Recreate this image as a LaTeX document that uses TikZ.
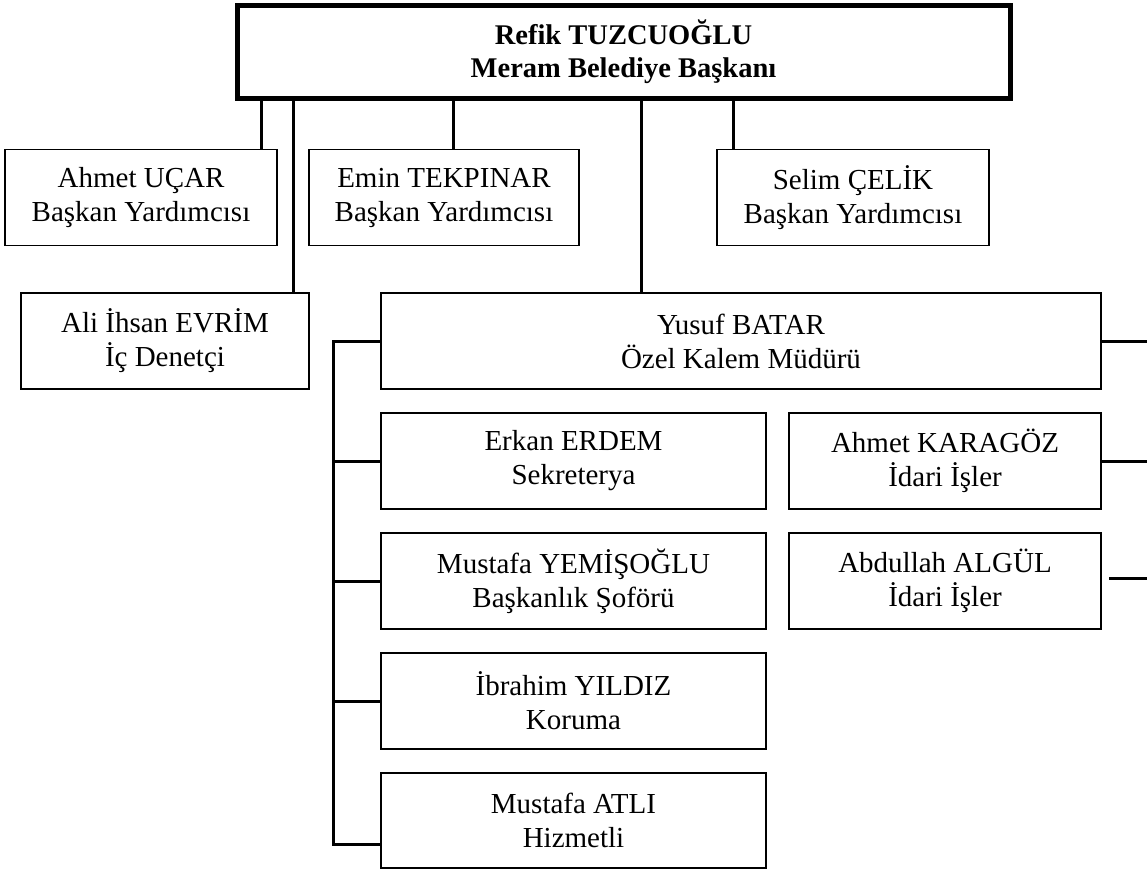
\documentclass[tikz,border=0pt]{standalone}
\usepackage{fontspec}
\setmainfont{Liberation Serif}
\begin{document}
\begin{tikzpicture}[x=1pt,y=-1pt,
  every node/.style={inner sep=0pt,outer sep=0pt,align=center},
  staffbox/.style={draw,line width=1.5pt,font=\fontsize{29}{34}\selectfont},
  headbox/.style={draw,line width=5pt,font=\fontsize{28.5}{33}\selectfont\bfseries},
  link/.style={line width=3pt}]
\useasboundingbox (0,0) rectangle (1147,870);
% nodes
\node[headbox,minimum width=773pt,minimum height=93pt] (top) at (623.5,51.5) {Refik TUZCUOĞLU\\Meram Belediye Başkanı};
\node[staffbox,minimum width=272pt,minimum height=96pt] (ucar) at (141,197.5) {Ahmet UÇAR\\Başkan Yardımcısı};
\node[staffbox,minimum width=270pt,minimum height=96pt] (emin) at (444,197.5) {Emin TEKPINAR\\Başkan Yardımcısı};
\node[staffbox,minimum width=272pt,minimum height=96pt] (selim) at (853,197.5) {Selim ÇELİK\\Başkan Yardımcısı};
\node[staffbox,minimum width=288pt,minimum height=96pt] (ali) at (165,341) {Ali İhsan EVRİM\\İç Denetçi};
\node[staffbox,minimum width=720pt,minimum height=96pt] (yusuf) at (741,341) {Yusuf BATAR\\Özel Kalem Müdürü};
\node[staffbox,minimum width=385pt,minimum height=96pt] (erkan) at (573.5,461) {Erkan ERDEM\\Sekreterya};
\node[staffbox,minimum width=385pt,minimum height=96pt] (musy) at (573.5,581) {Mustafa YEMİŞOĞLU\\Başkanlık Şoförü};
\node[staffbox,minimum width=385pt,minimum height=96pt] (ibr) at (573.5,701) {İbrahim YILDIZ\\Koruma};
\node[staffbox,minimum width=385pt,minimum height=95pt] (atli) at (573.5,820.5) {Mustafa ATLI\\Hizmetli};
\node[staffbox,minimum width=312pt,minimum height=96pt] (kara) at (945,461) {Ahmet KARAGÖZ\\İdari İşler};
\node[staffbox,minimum width=312pt,minimum height=96pt] (algul) at (945,581) {Abdullah ALGÜL\\İdari İşler};
% helper coordinates
\coordinate (xucar) at (261,0);
\coordinate (xali) at (293,0);
\coordinate (xemin) at (453,0);
\coordinate (xyusuf) at (641,0);
\coordinate (xselim) at (733,0);
\coordinate (busTop) at (333,341);
\coordinate (busBot) at (333,844);
\coordinate (edge) at (1147,0);
\coordinate (algA) at (1109,578);
\coordinate (algB) at (1147,578);
% connectors from head
\draw[link] (xucar |- top.south) -- (xucar |- ucar.north);
\draw[link] (xali |- top.south) -- (xali |- ali.north);
\draw[link] (xemin |- top.south) -- (xemin |- emin.north);
\draw[link] (xyusuf |- top.south) -- (xyusuf |- yusuf.north);
\draw[link] (xselim |- top.south) -- (xselim |- selim.north);
% left bus
\draw[link] (yusuf.west) -- (busTop) -- (busBot) -- (busBot -| atli.west);
\draw[link] (busTop |- erkan.west) -- (erkan.west);
\draw[link] (busTop |- musy.west) -- (musy.west);
\draw[link] (busTop |- ibr.west) -- (ibr.west);
% right stubs
\draw[link] (yusuf.east) -- (edge |- yusuf.east);
\draw[link] (kara.east) -- (edge |- kara.east);
\draw[link] (algA) -- (algB);
\end{tikzpicture}
\end{document}
